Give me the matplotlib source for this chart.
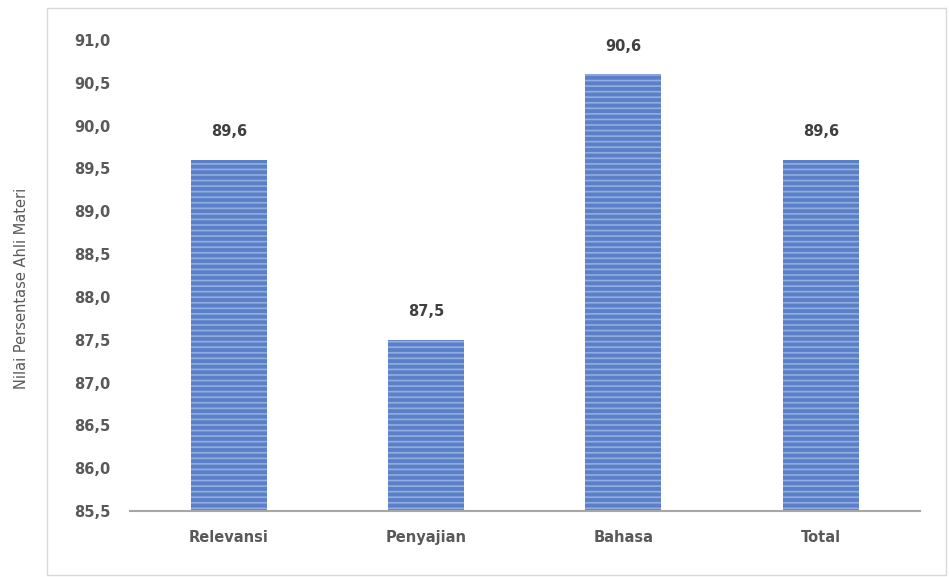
import matplotlib.pyplot as plt
from matplotlib.patches import Rectangle

categories = ['Relevansi', 'Penyajian', 'Bahasa', 'Total']
values = [89.6, 87.5, 90.6, 89.6]
value_labels = ['89,6', '87,5', '90,6', '89,6']
yticks = [85.5, 86.0, 86.5, 87.0, 87.5, 88.0, 88.5, 89.0, 89.5, 90.0, 90.5, 91.0]

plt.rcParams['hatch.linewidth'] = 1.2

fig = plt.figure(figsize=(9.49, 5.77), dpi=100)
ax = fig.add_axes([0.137, 0.1144, 0.832, 0.8163])

# light outer frame like the excel chart area
fig.patches.append(Rectangle((0.05, 0.004), 0.947, 0.982, transform=fig.transFigure,
                             fill=False, edgecolor='#d9d9d9', linewidth=1.0))

x = range(len(categories))
bars = ax.bar(x, values, width=0.385, bottom=0, color='#5b80c8',
              edgecolor='#92aee0', linewidth=0, hatch='---')

for i in x:
    ax.text(i, values[i] + 0.24, value_labels[i], ha='center', va='bottom',
            fontsize=10.5, fontweight='bold', color='#404040')

ax.set_ylim(85.5, 91.0)
ax.set_xlim(-0.5, 3.5)
ax.set_yticks(yticks)
ax.set_yticklabels([('%.1f' % t).replace('.', ',') for t in yticks])
ax.set_xticks(list(x))
ax.set_xticklabels(categories)
for lab in ax.get_xticklabels() + ax.get_yticklabels():
    lab.set_fontweight('bold')
    lab.set_fontsize(10.5)
    lab.set_color('#595959')
ax.tick_params(length=0)
ax.tick_params(axis='y', pad=14)
ax.tick_params(axis='x', pad=14)

for s in ['top', 'right', 'left']:
    ax.spines[s].set_visible(False)
ax.spines['bottom'].set_color('#a6a6a6')
ax.spines['bottom'].set_linewidth(1.5)

fig.text(0.023, 0.5, 'Nilai Persentase Ahli Materi', rotation=90, ha='center',
         va='center', fontsize=10.5, color='#595959')

plt.savefig('out.png', dpi=100)
